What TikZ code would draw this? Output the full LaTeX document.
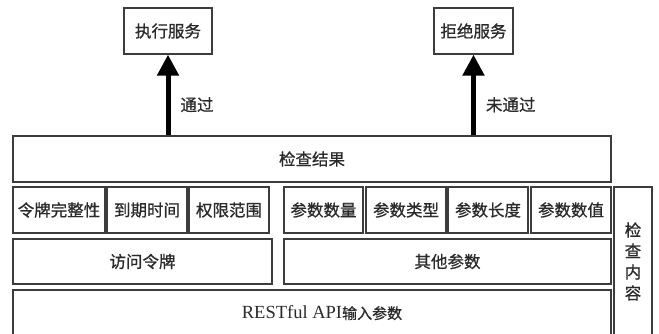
\documentclass[tikz,border=0pt]{standalone}
\usepackage{fontspec}
\setmainfont{Liberation Serif}
\newfontfamily\cjk[UprightFeatures={FakeBold=0.8}]{Noto Sans CJK SC}
\usetikzlibrary{arrows.meta}
\definecolor{ln}{HTML}{3C3C3C}
\definecolor{tx}{HTML}{2A2A2A}
\tikzset{
  box/.style={draw=ln, line width=1.3pt, fill=white, inner sep=0pt, text=tx,
    font=\cjk\fontsize{16.5}{20}\selectfont},
  arr/.style={draw=black, line width=5pt, -{Triangle[width=21pt,length=21pt]}},
  lbl/.style={anchor=west, inner sep=0pt, text=tx, font=\cjk\fontsize{16.5}{20}\selectfont}
}
\begin{document}
\begin{tikzpicture}[x=1pt,y=1pt]
\useasboundingbox (0,0) rectangle (659,-333);
\clip (0,0) rectangle (659,-333);
% top service boxes
\node[box, minimum width=88, minimum height=46] (exec) at (168,-31) {执行服务};
\node[box, minimum width=79, minimum height=46] (reject) at (473.5,-31) {拒绝服务};
% result
\node[box, minimum width=598, minimum height=46] (result) at (312,-159) {检查结果};
% row 2
\node[box, minimum width=92, minimum height=46] (b1) at (59,-210) {令牌完整性};
\node[box, minimum width=80, minimum height=46] (b2) at (147,-210) {到期时间};
\node[box, minimum width=80, minimum height=46] (b3) at (229,-210) {权限范围};
\node[box, minimum width=79, minimum height=46] (b4) at (323.5,-210) {参数数量};
\node[box, minimum width=80, minimum height=46] (b5) at (406,-210) {参数类型};
\node[box, minimum width=80, minimum height=46] (b6) at (488,-210) {参数长度};
\node[box, minimum width=80, minimum height=46] (b7) at (571,-210) {参数数值};
% row 3
\node[box, minimum width=259, minimum height=45] (token) at (142.5,-261.5) {访问令牌};
\node[box, minimum width=327, minimum height=45] (other) at (447.5,-261.5) {其他参数};
% row 4
\node[box, minimum width=598, minimum height=46, font=\rmfamily\fontsize{18.5}{20}\selectfont] (api) at (312,-313) {\hspace*{20pt}RESTful API{\cjk\fontsize{15}{20}\selectfont 输入参数}};
% side box
\node[box, minimum width=38, minimum height=149, align=center,
  font=\cjk\fontsize{16.5}{21}\selectfont] (side) at (633,-261.5) {检\\查\\内\\容};
% arrows
\draw[arr] (result.north -| exec.south) -- node[lbl, pos=0.38, xshift=10pt] {通过} (exec.south);
\draw[arr] (result.north -| reject.south) -- node[lbl, pos=0.38, xshift=10pt] {未通过} (reject.south);
\end{tikzpicture}
\end{document}
